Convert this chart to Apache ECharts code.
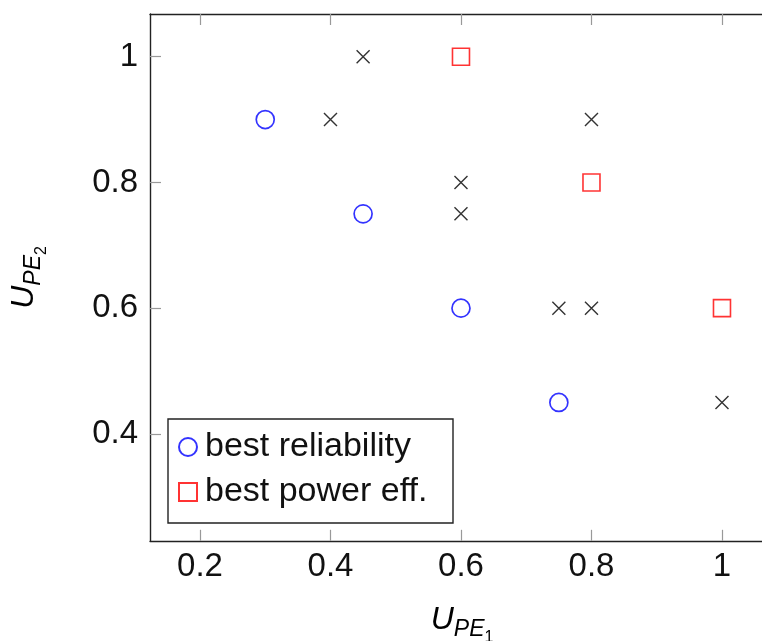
<!DOCTYPE html>
<html><head><meta charset="utf-8">
<script src="https://cdn.jsdelivr.net/npm/echarts@6/dist/echarts.min.js"></script>
<style>html,body{margin:0;padding:0;background:#fff}#c{width:762px;height:641px}</style>
</head><body><div id="c"></div>
<script>
const xTicks = [0.2, 0.4, 0.6, 0.8, 1];
const yTicks = [0.4, 0.6, 0.8, 1];
const reliabilityPts = [[0.3, 0.9], [0.45, 0.75], [0.6, 0.6], [0.75, 0.45]];
const powerPts = [[0.6, 1], [0.8, 0.8], [1, 0.6]];
const otherPts = [[0.45, 1], [0.4, 0.9], [0.8, 0.9], [0.6, 0.8], [0.6, 0.75], [0.75, 0.6], [0.8, 0.6], [1, 0.45]];
const seriesNames = ['best reliability', 'best power eff.'];

const FONT = 'Liberation Sans';
const xMin = 0.1234, xMax = 1.08, yMin = 0.2298, yMax = 1.068;
const pxX = 652.5, pxY = 628.5;
const gridLeft = 150, gridTop = 14;
const gridW = (xMax - xMin) * pxX, gridH = (yMax - yMin) * pxY;

const tickStyle = {show: true, inside: true, length: 11, lineStyle: {color: '#999', width: 1.2}};
const nameRich = {
  u: {fontFamily: FONT, fontStyle: 'italic', fontSize: 32, color: '#000', verticalAlign: 'bottom', lineHeight: 38},
  s: {fontFamily: FONT, fontStyle: 'italic', fontSize: 23, color: '#000', verticalAlign: 'bottom', lineHeight: 38, padding: [0, 0, -5, 0]},
  ss: {fontFamily: FONT, fontSize: 16, color: '#000', verticalAlign: 'bottom', lineHeight: 38, padding: [0, 0, -10, 0]}
};
function axisBase(extra) {
  return Object.assign({
    type: 'value', splitLine: {show: false},
    axisLine: {show: true, onZero: false, lineStyle: {color: '#222', width: 1.4}}
  }, extra);
}
const chart = echarts.init(document.getElementById('c'));
chart.setOption({
  animation: false,
  backgroundColor: '#fff',
  grid: {left: gridLeft, top: gridTop, width: gridW, height: gridH, containLabel: false, outerBoundsMode: 'none'},
  xAxis: [
    axisBase({min: xMin, max: xMax, position: 'bottom',
      axisTick: Object.assign({customValues: xTicks}, tickStyle),
      axisLabel: {customValues: xTicks, fontFamily: FONT, fontSize: 33, color: '#111', margin: 10,
        formatter: v => String(+v.toFixed(2))},
      name: '{u|U}{s|PE}{ss|1}', nameLocation: 'middle', nameGap: 57,
      nameTextStyle: {rich: nameRich}}),
    axisBase({min: xMin, max: xMax, position: 'top',
      axisTick: Object.assign({customValues: xTicks}, tickStyle), axisLabel: {show: false}})
  ],
  yAxis: [
    axisBase({min: yMin, max: yMax, position: 'left',
      axisTick: Object.assign({customValues: yTicks}, tickStyle),
      axisLabel: {customValues: yTicks, fontFamily: FONT, fontSize: 33, color: '#111', margin: 12,
        formatter: v => String(+v.toFixed(2))},
      name: '{u|U}{s|PE}{ss|2}', nameLocation: 'middle', nameGap: 110, nameRotate: 90,
      nameTextStyle: {rich: nameRich}}),
    axisBase({min: yMin, max: yMax, position: 'right',
      axisTick: Object.assign({customValues: yTicks}, tickStyle), axisLabel: {show: false}})
  ],
  legend: {
    left: 168, top: 419, orient: 'vertical', padding: [10, 10, 13, 10], itemGap: 9,
    borderColor: '#222', borderWidth: 1.4, backgroundColor: '#fff', borderRadius: 0,
    itemWidth: 18, itemHeight: 18,
    textStyle: {fontFamily: FONT, fontSize: 34, color: '#111', lineHeight: 36, width: 238, padding: [0, 0, 0, 3]},
    data: seriesNames
  },
  series: [
    {type: 'scatter', name: 'others', data: otherPts, symbol: 'path://M0,0L10,10M10,0L0,10', symbolSize: 13,
      itemStyle: {color: 'none', borderColor: '#000', borderWidth: 1.4}, z: 2},
    {type: 'scatter', name: seriesNames[0], data: reliabilityPts, symbol: 'circle', symbolSize: 18,
      itemStyle: {color: 'rgba(0,0,0,0)', borderColor: '#0000ff', borderWidth: 1.7}, z: 3},
    {type: 'scatter', name: seriesNames[1], data: powerPts, symbol: 'rect', symbolSize: 17,
      itemStyle: {color: 'rgba(0,0,0,0)', borderColor: '#ff0000', borderWidth: 1.6}, z: 3}
  ]
});
</script></body></html>
